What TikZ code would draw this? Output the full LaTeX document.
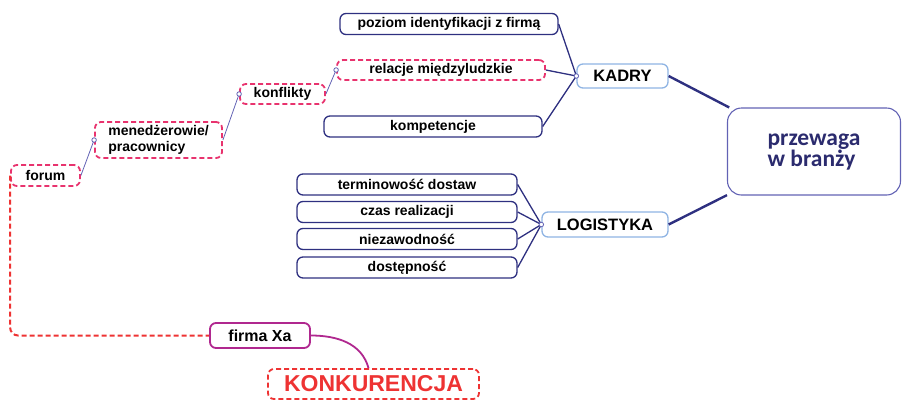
\documentclass[tikz,border=0pt]{standalone}
\usepackage{fontspec}
\setmainfont{Liberation Sans}
\newfontfamily\carlito{Carlito}
\definecolor{bleu}{HTML}{2E3080}
\definecolor{ciel}{HTML}{8FB4E3}
\definecolor{lila}{HTML}{6262B4}
\definecolor{rose}{HTML}{E8336E}
\definecolor{rouge}{HTML}{EE3333}
\definecolor{magen}{HTML}{B0288F}
\definecolor{encre}{HTML}{2B2B6E}
\begin{document}
\begin{tikzpicture}[x=1pt, y=-1pt]
 \tikzstyle{boite}=[draw=bleu, line width=1.3pt, rounded corners=6pt, inner sep=0pt, minimum height=21pt, text=black, font=\fontsize{14}{16}\selectfont\bfseries]
 \tikzstyle{rose}=[boite, draw=rose, dash pattern=on 5pt off 3pt, line width=1.8pt]
 \tikzstyle{titre}=[boite, draw=ciel, minimum height=25pt, font=\fontsize{16.5}{18}\selectfont\bfseries]
 \tikzstyle{lien}=[draw=bleu, line width=1.3pt]
 \tikzstyle{gros}=[draw=bleu, line width=2.4pt]
 \tikzstyle{fil}=[draw=lila, line width=0.8pt]
 \tikzstyle{rond}=[circle, draw=lila, fill=white, inner sep=0pt, minimum size=4.5pt, line width=0.8pt]
 \useasboundingbox (0,0) rectangle (902,400);
 %
 \node[boite, minimum width=218pt] (poziom) at (449,24) {poziom identyfikacji z firmą};
 \node[rose, minimum width=208pt, minimum height=20pt] (relacje) at (441,70) {relacje międzyludzkie};
 \node[boite, minimum width=218pt] (komp) at (433,126.5) {kompetencje};
 \node[titre, minimum width=91pt, minimum height=24pt] (kadry) at (622.5,76) {KADRY};
 %
 \node[boite, minimum width=220pt] (term) at (407,184.5) {terminowość dostaw};
 \node[boite, minimum width=220pt] (czas) at (407,212) {czas realizacji};
 \node[boite, minimum width=220pt] (niez) at (407,239) {niezawodność};
 \node[boite, minimum width=220pt] (dost) at (407,267.5) {dostępność};
 \node[titre, minimum width=126pt] (log) at (605,224.5) {LOGISTYKA};
 %
 \node[boite, draw=lila, line width=1.1pt, rounded corners=14pt, minimum width=173pt, minimum height=87pt, text=encre, font=\carlito\fontsize{23.5}{23}\selectfont\bfseries] (prz) at (814,151.5) {\begin{tabular}{@{}l@{}}przewaga\\[-2pt]w~branży\end{tabular}\hspace{10pt}};
 %
 \node[rose, minimum width=85pt, minimum height=20pt] (konf) at (282.5,94) {konflikty};
 \node[rose, minimum width=127pt, minimum height=36pt, align=left] (mened) at (158.5,140) {menedżerowie/\\pracownicy};
 \node[rose, minimum width=69pt] (forum) at (45.5,175.5) {forum};
 %
 \node[boite, draw=magen, line width=1.8pt, minimum width=100pt, minimum height=25pt, font=\fontsize{16}{18}\selectfont\bfseries] (firma) at (260,335.5) {firma Xa};
 \node[rose, draw=rouge, text=rouge, minimum width=211pt, minimum height=30pt, font=\fontsize{23}{24}\selectfont\bfseries] (konk) at (373.5,384) {KONKURENCJA};
 %%
 \draw[lien] (poziom.east) -- (kadry.west);
 \draw[lien] (relacje.east) -- (kadry.west);
 \draw[lien] (komp.east) -- (kadry.west);
 \foreach \n in {term,czas,niez,dost}
  \draw[lien] (\n.east) -- (log.west);
 \draw[gros] (kadry.east) -- (prz);
 \draw[gros] (log.east) -- (prz);
 %
 \draw[fil] (konf.east) -- (relacje.west);
 \draw[fil] (mened.east) -- (konf.west);
 \draw[fil] (forum.east) -- (mened.west);
 \draw[draw=rouge, line width=2pt, dash pattern=on 5pt off 3pt, rounded corners=8pt] (forum.west) |- (firma.west);
 \draw[draw=magen, line width=1.8pt] (firma.east) to[out=0, in=105] ([xshift=-5pt]konk.north);
 %
 \node[rond] (d1) at (kadry.west) {};
 \node[rond] (d2) at (log.west) {};
 \node[rond] (d3) at (relacje.west) {};
 \node[rond] (d4) at (konf.west) {};
 \node[rond] (d5) at (mened.west) {};
\end{tikzpicture}
\end{document}
